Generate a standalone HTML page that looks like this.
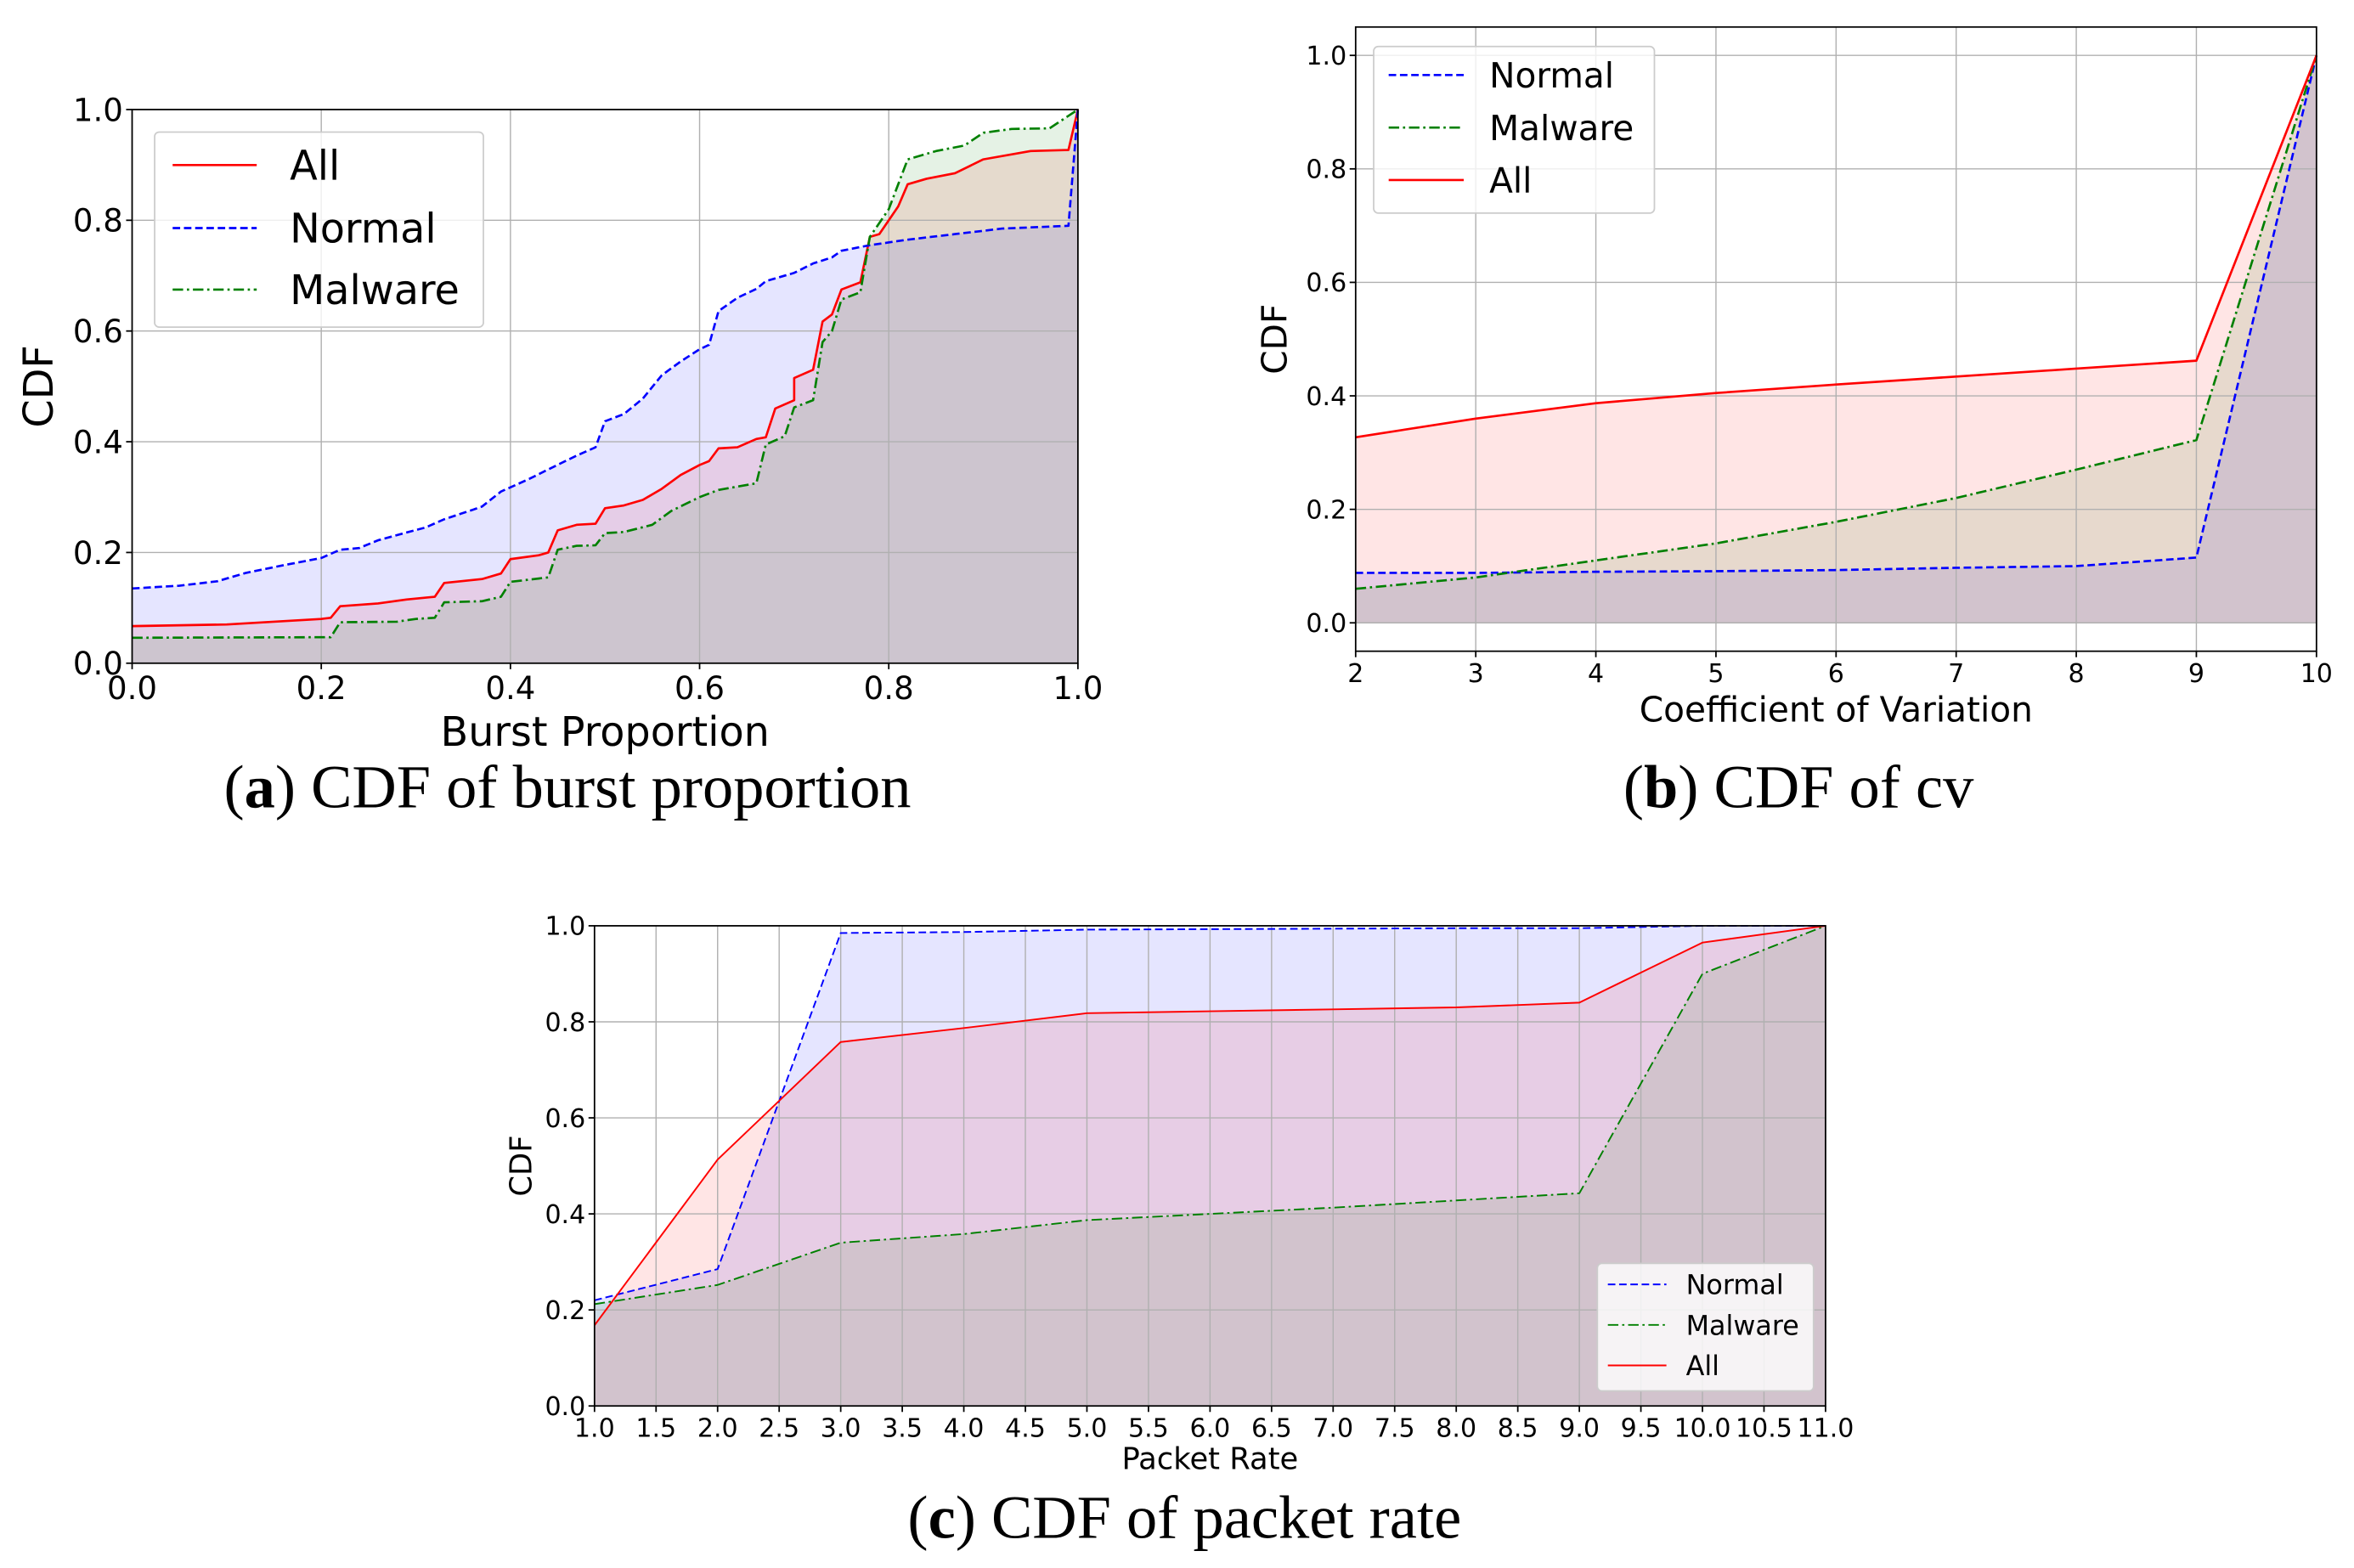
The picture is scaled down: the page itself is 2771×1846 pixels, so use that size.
<!DOCTYPE html>
<html><head><meta charset="utf-8"><style>
html,body{margin:0;padding:0;background:#fff;}
svg{display:block;}
</style></head><body>
<svg id="fig" width="2771" height="1846" viewBox="0 0 1568 1045" preserveAspectRatio="none" xmlns="http://www.w3.org/2000/svg"></svg>
<script>
// ---- Chart (a) data ----
const aNormalX=[0,0.05,0.09,0.12,0.16,0.2,0.22,0.24,0.26,0.29,0.31,0.33,0.36,0.37,0.39,0.42,0.44,0.47,0.49,0.5,0.52,0.54,0.56,0.58,0.6,0.61,0.62,0.64,0.66,0.67,0.7,0.72,0.74,0.75,0.78,0.82,0.87,0.92,0.99,1.0];
const aNormalY=[0.135,0.14,0.148,0.163,0.177,0.19,0.205,0.208,0.222,0.236,0.245,0.26,0.277,0.283,0.31,0.333,0.35,0.375,0.39,0.437,0.45,0.478,0.52,0.545,0.567,0.575,0.636,0.66,0.676,0.69,0.705,0.722,0.733,0.745,0.755,0.765,0.775,0.785,0.79,1.0];
const aAllX=[0,0.1,0.2,0.21,0.22,0.26,0.29,0.32,0.33,0.37,0.39,0.4,0.43,0.44,0.45,0.47,0.49,0.5,0.52,0.54,0.56,0.58,0.6,0.61,0.62,0.64,0.66,0.67,0.68,0.7,0.7,0.72,0.73,0.74,0.75,0.77,0.78,0.79,0.81,0.82,0.84,0.87,0.9,0.95,0.99,1.0];
const aAllY=[0.067,0.07,0.08,0.082,0.103,0.108,0.115,0.12,0.145,0.152,0.162,0.188,0.195,0.2,0.24,0.25,0.252,0.28,0.285,0.295,0.315,0.34,0.358,0.365,0.388,0.39,0.405,0.408,0.46,0.475,0.515,0.53,0.617,0.63,0.675,0.688,0.77,0.775,0.825,0.865,0.875,0.885,0.91,0.925,0.927,1.0];
const aMalX=[0,0.21,0.22,0.28,0.3,0.32,0.33,0.37,0.39,0.4,0.44,0.45,0.47,0.49,0.5,0.52,0.55,0.57,0.6,0.62,0.66,0.67,0.69,0.7,0.72,0.73,0.74,0.75,0.77,0.78,0.8,0.82,0.85,0.88,0.9,0.93,0.97,1.0];
const aMalY=[0.046,0.047,0.074,0.075,0.08,0.082,0.11,0.112,0.12,0.147,0.155,0.205,0.212,0.213,0.235,0.237,0.25,0.275,0.3,0.313,0.325,0.395,0.41,0.462,0.475,0.58,0.6,0.657,0.67,0.77,0.82,0.91,0.925,0.935,0.958,0.965,0.966,1.0];
const aXTicks=["0.0","0.2","0.4","0.6","0.8","1.0"];
const aYTicks=["0.0","0.2","0.4","0.6","0.8","1.0"];
// ---- Chart (b) data ----
const bX=[2,3,4,5,6,7,8,9,10];
const bNormal=[0.088,0.088,0.09,0.091,0.093,0.097,0.1,0.115,1.0];
const bMalware=[0.06,0.08,0.11,0.14,0.178,0.22,0.27,0.322,1.0];
const bAll=[0.327,0.36,0.387,0.405,0.42,0.434,0.448,0.462,1.0];
const bXTicks=["2","3","4","5","6","7","8","9","10"];
const bYTicks=["0.0","0.2","0.4","0.6","0.8","1.0"];
// ---- Chart (c) data ----
const cX=[1,2,3,4,5,6,7,8,9,10,11];
const cNormal=[0.22,0.285,0.985,0.987,0.992,0.993,0.994,0.995,0.995,1.0,1.0];
const cMalware=[0.212,0.252,0.34,0.358,0.387,0.4,0.413,0.428,0.443,0.9,1.0];
const cAll=[0.168,0.513,0.758,0.787,0.818,0.822,0.826,0.83,0.84,0.965,1.0];
const cXTicks=["1.0","1.5","2.0","2.5","3.0","3.5","4.0","4.5","5.0","5.5","6.0","6.5","7.0","7.5","8.0","8.5","9.0","9.5","10.0","10.5","11.0"];
const cYTicks=["0.0","0.2","0.4","0.6","0.8","1.0"];

const NS="http://www.w3.org/2000/svg";
const svg=document.getElementById('fig');
function mk(tag,attrs,parent,text){const e=document.createElementNS(NS,tag);for(const k in attrs)e.setAttribute(k,attrs[k]);if(text!==undefined)e.textContent=text;(parent||svg).appendChild(e);return e;}
const STY={normal:{c:"#0000ff",d:"5,2.5"},malware:{c:"#008000",d:"7,2.5,1.5,2.5"},all:{c:"#ff0000",d:""}};

function chart(o){
  const g=mk('g',{});
  
  
  const sx=v=>o.x0+(v-o.xmin)/(o.xmax-o.xmin)*(o.x1-o.x0);
  const sy=v=>o.y1-(v-o.ymin)/(o.ymax-o.ymin)*(o.y1-o.y0);
  o.series.forEach(s=>{
    let d="M"+sx(s.x[0])+","+sy(0);
    s.x.forEach((xv,i)=>{d+=" L"+sx(xv)+","+sy(s.y[i]);});
    d+=" L"+sx(s.x[s.x.length-1])+","+sy(0)+" Z";
    const p=mk('path',{d:d,fill:STY[s.k].c,'fill-opacity':0.1,stroke:'none'},g);
    
    
  });
  o.xt.forEach(t=>{const X=sx(parseFloat(t));const l=mk('line',{x1:X,x2:X,y1:o.y0,y2:o.y1,stroke:'#b0b0b0','stroke-width':0.8},g);});
  o.yt.forEach(t=>{const Y=sy(parseFloat(t));const l=mk('line',{x1:o.x0,x2:o.x1,y1:Y,y2:Y,stroke:'#b0b0b0','stroke-width':0.8},g);});
  o.series.forEach(s=>{
    const pts=s.x.map((xv,i)=>sx(xv)+","+sy(s.y[i])).join(" ");
    const attrs={points:pts,fill:'none',stroke:STY[s.k].c,'stroke-width':o.lw,'stroke-linejoin':'round'};
    if(STY[s.k].d)attrs['stroke-dasharray']=STY[s.k].d;
    const pl=mk('polyline',attrs,g);
    
    
  });
  const fr=mk('rect',{x:o.x0,y:o.y0,width:o.x1-o.x0,height:o.y1-o.y0,fill:'none',stroke:'#000','stroke-width':1},g);
  
  
  o.xt.forEach(t=>{const X=sx(parseFloat(t));mk('line',{x1:X,x2:X,y1:o.y1,y2:o.y1+4,stroke:'#000','stroke-width':1},g);
    const tx=mk('text',{x:X,y:o.y1+6+o.tf*0.85,'text-anchor':'middle','font-size':o.tf,'font-family':'DejaVu Sans, Liberation Sans, sans-serif'},g,t);
    });
  o.yt.forEach(t=>{const Y=sy(parseFloat(t));mk('line',{x1:o.x0-4,x2:o.x0,y1:Y,y2:Y,stroke:'#000','stroke-width':1},g);
    const tx=mk('text',{x:o.x0-6,y:Y+o.tf*0.36,'text-anchor':'end','font-size':o.tf,'font-family':'DejaVu Sans, Liberation Sans, sans-serif'},g,t);
    });
  const xl=mk('text',{x:(o.x0+o.x1)/2,y:o.xly,'text-anchor':'middle','font-size':o.lf,'font-family':'DejaVu Sans, Liberation Sans, sans-serif'},g,o.xlabel);
  
  const yl=mk('text',{x:0,y:0,transform:`translate(${o.ylx},${(o.y0+o.y1)/2}) rotate(-90)`,'text-anchor':'middle','font-size':o.lf,'font-family':'DejaVu Sans, Liberation Sans, sans-serif'},g,'CDF');
  
  const L=o.leg;
  const lb=mk('rect',{x:L.x,y:L.y,width:L.w,height:L.h,rx:3,fill:'#ffffff','fill-opacity':0.8,stroke:'#cccccc','stroke-width':1},g);
  
  L.items.forEach((it,i)=>{
    const Y=L.ys[i];
    const a={x1:L.x+L.lx0,x2:L.x+L.lx1,y1:Y,y2:Y,stroke:STY[it.k].c,'stroke-width':o.lw};
    if(STY[it.k].d)a['stroke-dasharray']=STY[it.k].d;
    mk('line',a,g);
    const t=mk('text',{x:L.x+L.tx,y:Y+L.f*0.36,'font-size':L.f,'font-family':'DejaVu Sans, Liberation Sans, sans-serif'},g,it.t);
    
  });
  const cap=mk('text',{x:o.capx,y:o.capy,'text-anchor':'middle','font-size':o.capf,'font-family':'Liberation Serif, DejaVu Serif, serif'},g);
  
  mk('tspan',{},cap,'(');mk('tspan',{'font-weight':'bold'},cap,o.capl);mk('tspan',{},cap,') '+o.capt);
}

chart({name:'chart-a-burst-proportion',x0:88,x1:718,y0:73,y1:442,xmin:0,xmax:1,ymin:0,ymax:1,lw:1.5,tf:21,lf:27,
  xt:aXTicks,yt:aYTicks,xlabel:'Burst Proportion',xly:497,ylx:35,
  series:[{k:'all',x:aAllX,y:aAllY},{k:'normal',x:aNormalX,y:aNormalY},{k:'malware',x:aMalX,y:aMalY}],
  leg:{x:103,y:88,w:219,h:130,lx0:12,lx1:68,tx:90,f:27,ys:[110,152,193],items:[{k:'all',t:'All'},{k:'normal',t:'Normal'},{k:'malware',t:'Malware'}]},
  capx:378,capy:538,capf:41,capl:'a',capt:'CDF of burst proportion'});

chart({name:'chart-b-coefficient-of-variation',x0:903,x1:1543,y0:18,y1:434,xmin:2,xmax:10,ymin:-0.05,ymax:1.05,lw:1.5,tf:17,lf:23,
  xt:bXTicks,yt:bYTicks,xlabel:'Coefficient of Variation',xly:481,ylx:857,
  series:[{k:'normal',x:bX,y:bNormal},{k:'malware',x:bX,y:bMalware},{k:'all',x:bX,y:bAll}],
  leg:{x:915,y:31,w:187,h:111,lx0:10,lx1:60,tx:77,f:23,ys:[50,85,120],items:[{k:'normal',t:'Normal'},{k:'malware',t:'Malware'},{k:'all',t:'All'}]},
  capx:1198,capy:538,capf:41,capl:'b',capt:'CDF of cv'});

chart({name:'chart-c-packet-rate',x0:396,x1:1216,y0:617,y1:937,xmin:1,xmax:11,ymin:0,ymax:1,lw:1.1,tf:17,lf:20,
  xt:cXTicks,yt:cYTicks,xlabel:'Packet Rate',xly:979,ylx:354,
  series:[{k:'normal',x:cX,y:cNormal},{k:'malware',x:cX,y:cMalware},{k:'all',x:cX,y:cAll}],
  leg:{x:1064,y:842,w:144,h:85,lx0:7,lx1:46,tx:59,f:18,ys:[856,883,910],items:[{k:'normal',t:'Normal'},{k:'malware',t:'Malware'},{k:'all',t:'All'}]},
  capx:789,capy:1025,capf:41,capl:'c',capt:'CDF of packet rate'});
</script>
</body></html>
